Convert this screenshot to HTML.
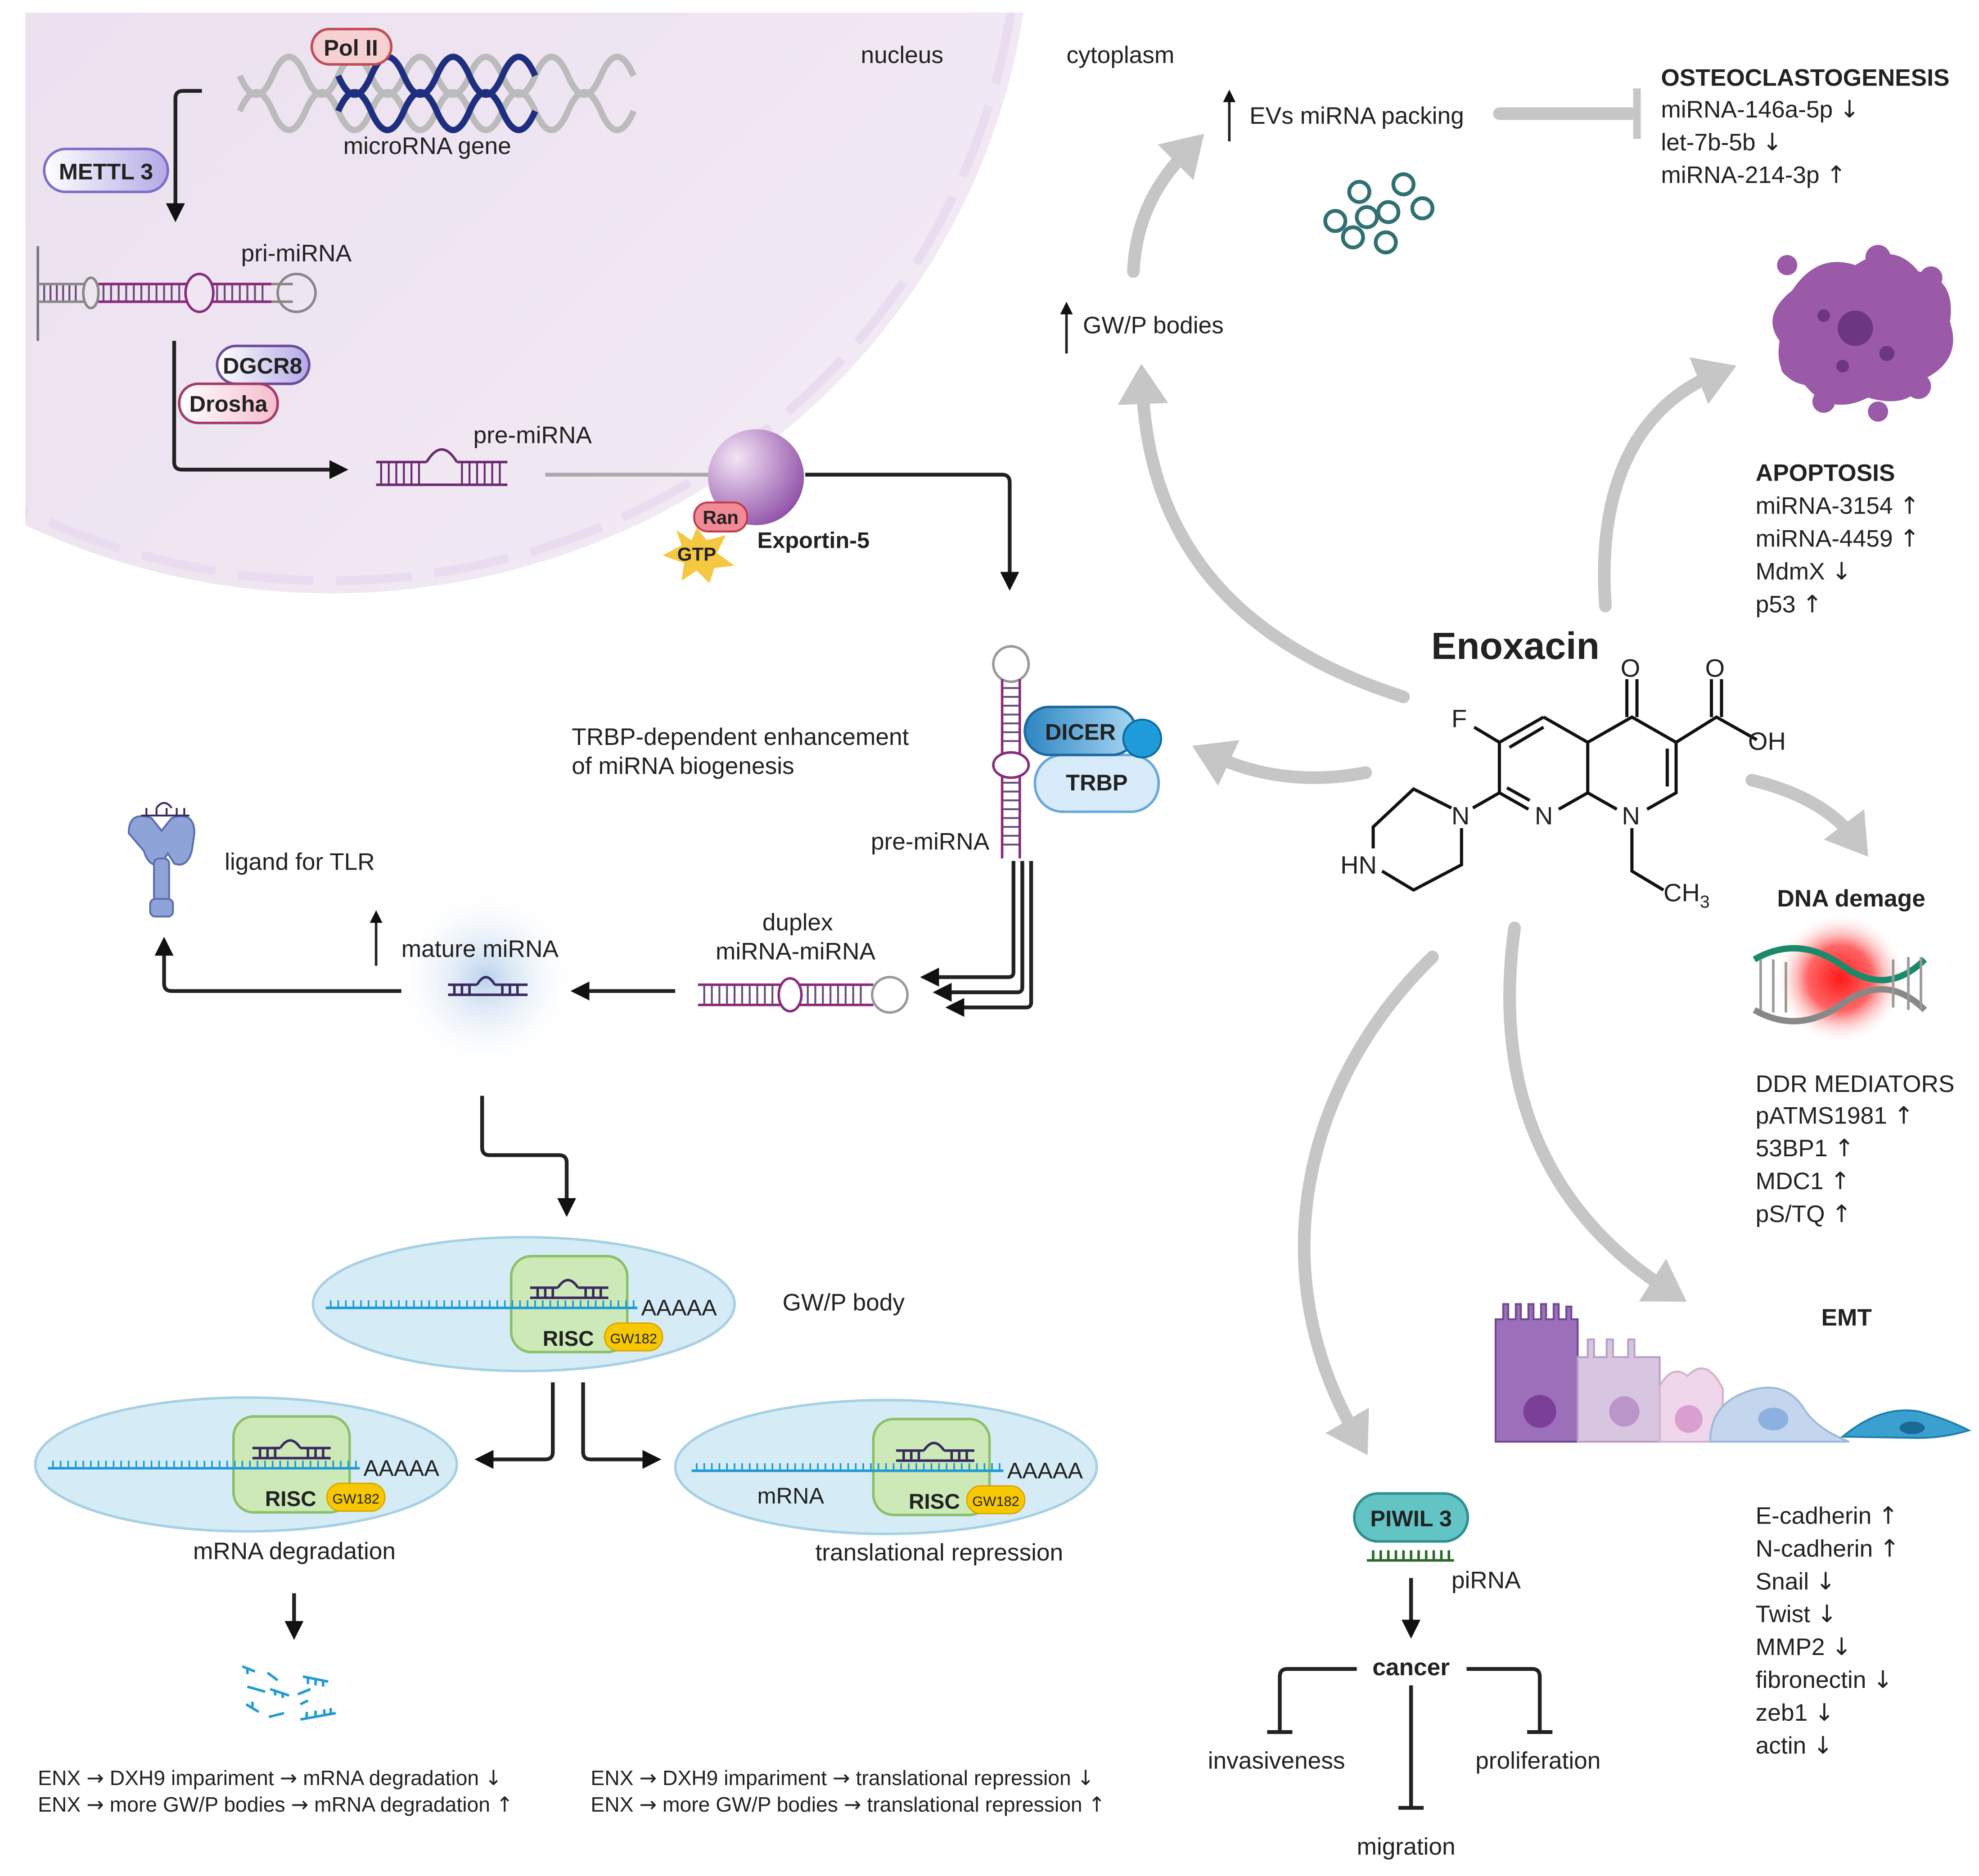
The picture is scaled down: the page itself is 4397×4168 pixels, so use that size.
<!DOCTYPE html>
<html><head><meta charset="utf-8"><style>
html,body{margin:0;padding:0;background:#fff;}
svg{display:block;}
text{font-family:"Liberation Sans",sans-serif;fill:#222;}
.b{font-weight:bold;}
.ar{font-family:"DejaVu Sans",sans-serif;}
</style></head><body>
<svg width="4397" height="4168" viewBox="0 0 1568 1486" preserveAspectRatio="none" xmlns="http://www.w3.org/2000/svg">
<defs>
<linearGradient id="nuc" x1="0" y1="0" x2="1" y2="1"><stop offset="0" stop-color="#e6d8ea"/><stop offset="1" stop-color="#f3ecf6"/></linearGradient>
<radialGradient id="exp" cx="0.3" cy="0.3" r="0.8"><stop offset="0" stop-color="#f3e4f6"/><stop offset="1" stop-color="#8e4ea6"/></radialGradient>
<linearGradient id="dic" x1="0" x2="1"><stop offset="0" stop-color="#2d86c2"/><stop offset="1" stop-color="#a8d6f2"/></linearGradient>
<radialGradient id="glow" cx="0.5" cy="0.5" r="0.5"><stop offset="0" stop-color="#b9d2ec"/><stop offset="1" stop-color="#f2f6fb" stop-opacity="0"/></radialGradient>
<radialGradient id="red" cx="0.5" cy="0.5" r="0.5"><stop offset="0" stop-color="#ff1a1a"/><stop offset="0.5" stop-color="#f66"/><stop offset="1" stop-color="#fff" stop-opacity="0"/></radialGradient>
<linearGradient id="pv" x1="0" x2="1"><stop offset="0" stop-color="#fff"/><stop offset="1" stop-color="#b4a9e6"/></linearGradient>
<linearGradient id="pp" x1="0" x2="1"><stop offset="0" stop-color="#fff"/><stop offset="1" stop-color="#f5bccc"/></linearGradient>
<marker id="ah" markerWidth="6" markerHeight="6" refX="3" refY="3" orient="auto" markerUnits="strokeWidth"><path d="M0,0.5 L5,3 L0,5.5 z" fill="#111"/></marker>
<marker id="gh" markerWidth="4" markerHeight="4" refX="1.5" refY="2" orient="auto" markerUnits="strokeWidth"><path d="M0,0 L3.2,2 L0,4 z" fill="#c6c6c6"/></marker>
</defs>
<clipPath id="cl"><rect x="20" y="10" width="1540" height="1480"/></clipPath>
<g clip-path="url(#cl)">
<ellipse cx="262" cy="-70" rx="555" ry="540" fill="url(#nuc)"/>
<ellipse cx="262" cy="-70" rx="545" ry="530" fill="none" stroke="#eadcf0" stroke-width="7" stroke-dasharray="60 18"/>
</g>
<text x="682" y="50" font-size="19">nucleus</text>
<text x="845" y="50" font-size="19">cytoplasm</text>
<g fill="none" stroke-width="5">
<path d="M190,60 q13,30 26,0 t26,0 t26,0 t26,0 t26,0 t26,0 t26,0 t26,0 t26,0 t26,0 t26,0 t26,0" stroke="#bbb"/>
<path d="M190,88 q13,-30 26,0 t26,0 t26,0 t26,0 t26,0 t26,0 t26,0 t26,0 t26,0 t26,0 t26,0 t26,0" stroke="#bbb"/>
<path d="M268,60 q13,30 26,0 t26,0 t26,0 t26,0 t26,0 t26,0" stroke="#1f2f80"/>
<path d="M268,88 q13,-30 26,0 t26,0 t26,0 t26,0 t26,0 t26,0" stroke="#1f2f80"/>
</g>
<rect x="247" y="23" width="63" height="28" rx="14" fill="#f7d1d1" stroke="#c24a57" stroke-width="2"/>
<text x="278" y="44" font-size="18" class="b" text-anchor="middle">Pol II</text>
<text x="272" y="122" font-size="19">microRNA gene</text>
<rect x="35" y="118" width="98" height="34" rx="17" fill="url(#pv)" stroke="#7b6fc7" stroke-width="2"/>
<text x="84" y="142" font-size="18" class="b" text-anchor="middle">METTL 3</text>
<path d="M160,72 H145 q-6,0 -6,6 V170" fill="none" stroke="#222" stroke-width="3" marker-end="url(#ah)"/>
<g fill="none" stroke-width="2">
<line x1="30" y1="195" x2="30" y2="270" stroke="#777"/>
<path d="M30,225 H232 M30,239 H232" stroke="#888"/>
<path d="M78,225 H215 M78,239 H215" stroke="#8a2a7c"/>
<circle cx="235" cy="232" r="15" stroke="#888" fill="none"/>
<ellipse cx="158" cy="232" rx="11" ry="15" stroke="#8a2a7c" fill="#efe6f2"/>
<ellipse cx="72" cy="232" rx="6" ry="12" stroke="#888" fill="#efe6f2"/>
<path d="M35,226 V238 M40,226 V238 M45,226 V238 M50,226 V238 M55,226 V238 M60,226 V238 M82,226 V238 M88,226 V238 M94,226 V238 M100,226 V238 M106,226 V238 M112,226 V238 M118,226 V238 M124,226 V238 M130,226 V238 M136,226 V238 M142,226 V238 M172,226 V238 M178,226 V238 M184,226 V238 M190,226 V238 M196,226 V238 M202,226 V238 M208,226 V238" stroke="#6a4b7a" stroke-width="1.5"/>
</g>
<text x="191" y="207" font-size="19">pri-miRNA</text>
<rect x="172" y="274" width="73" height="30" rx="15" fill="url(#pv)" stroke="#6b4c9a" stroke-width="2"/>
<text x="208" y="296" font-size="18" class="b" text-anchor="middle">DGCR8</text>
<rect x="142" y="304" width="78" height="31" rx="15" fill="url(#pp)" stroke="#a33a6a" stroke-width="2"/>
<text x="181" y="326" font-size="18" class="b" text-anchor="middle">Drosha</text>
<path d="M138,270 V366 q0,6 6,6 H270" fill="none" stroke="#222" stroke-width="3" marker-end="url(#ah)"/>
<g fill="none" stroke="#6a2a70" stroke-width="2">
<path d="M298,366 H338 M362,366 H402 M298,384 H402"/>
<path d="M338,366 q12,-20 24,0"/>
<path d="M302,366 V384 M308,366 V384 M314,366 V384 M320,366 V384 M326,366 V384 M332,366 V384 M366,366 V384 M372,366 V384 M378,366 V384 M384,366 V384 M390,366 V384 M396,366 V384" stroke-width="1.5"/>
</g>
<text x="375" y="351" font-size="19">pre-miRNA</text>
<line x1="432" y1="376" x2="565" y2="376" stroke="#aaa" stroke-width="3"/>
<circle cx="599" cy="378" r="38" fill="url(#exp)"/>
<polygon points="552,418 560,428 575,424 568,438 582,448 566,450 562,462 552,452 540,460 542,446 525,440 540,432 536,420 548,428" fill="#f5c842"/>
<text x="552" y="444" font-size="15" class="b" text-anchor="middle">GTP</text>
<rect x="550" y="398" width="42" height="23" rx="11" fill="#f08a94" stroke="#c03a4a" stroke-width="1.5"/>
<text x="571" y="415" font-size="15" class="b" text-anchor="middle">Ran</text>
<text x="600" y="434" font-size="18" class="b" fill="#444">Exportin-5</text>
<path d="M638,376 H794 q6,0 6,6 V462" fill="none" stroke="#222" stroke-width="3" marker-end="url(#ah)"/>
<g fill="none" stroke-width="2">
<circle cx="801" cy="526" r="14" stroke="#999" fill="#fff"/>
<path d="M794,538 V680 M808,538 V680" stroke="#8a2a7c"/>
<ellipse cx="801" cy="606" rx="14" ry="10" stroke="#8a2a7c" fill="#fff"/>
<path d="M795,545 H807 M795,552 H807 M795,559 H807 M795,566 H807 M795,573 H807 M795,580 H807 M795,587 H807 M795,620 H807 M795,627 H807 M795,634 H807 M795,641 H807 M795,648 H807 M795,655 H807 M795,662 H807 M795,669 H807" stroke="#6a4b7a" stroke-width="1.5"/>
</g>
<rect x="820" y="598" width="98" height="45" rx="22" fill="#d7ebfb" stroke="#6aa8d8" stroke-width="2"/>
<text x="869" y="626" font-size="18" class="b" text-anchor="middle">TRBP</text>
<rect x="812" y="560" width="88" height="38" rx="19" fill="url(#dic)" stroke="#1d6aa0" stroke-width="2"/>
<text x="856" y="586" font-size="18" class="b" text-anchor="middle">DICER</text>
<circle cx="905" cy="585" r="15" fill="#1e9bd8" stroke="#0d6aa0" stroke-width="1.5"/>
<text x="453" y="590" font-size="19">TRBP-dependent enhancement</text>
<text x="453" y="613" font-size="19">of miRNA biogenesis</text>
<text x="690" y="673" font-size="19">pre-miRNA</text>
<g fill="none" stroke="#222" stroke-width="3">
<path d="M803,682 V770 q0,4 -4,4 H735" marker-end="url(#ah)"/>
<path d="M810,682 V782 q0,4 -4,4 H745" marker-end="url(#ah)"/>
<path d="M817,682 V794 q0,4 -4,4 H755" marker-end="url(#ah)"/>
</g>
<text x="604" y="737" font-size="19">duplex</text>
<text x="567" y="760" font-size="19">miRNA-miRNA</text>
<g fill="none" stroke-width="2">
<path d="M553,780 H692 M553,796 H692" stroke="#8a2a7c"/>
<circle cx="705" cy="788" r="14" stroke="#999" fill="#fff"/>
<ellipse cx="626" cy="788" rx="9" ry="13" stroke="#8a2a7c" fill="#fff"/>
<path d="M558,781 V795 M564,781 V795 M570,781 V795 M576,781 V795 M582,781 V795 M588,781 V795 M594,781 V795 M600,781 V795 M606,781 V795 M612,781 V795 M640,781 V795 M646,781 V795 M652,781 V795 M658,781 V795 M664,781 V795 M670,781 V795 M676,781 V795 M682,781 V795" stroke="#6a4b7a" stroke-width="1.5"/>
</g>
<line x1="535" y1="785" x2="458" y2="785" stroke="#222" stroke-width="3" marker-end="url(#ah)"/>
<circle cx="385" cy="775" r="68" fill="url(#glow)"/>
<g fill="none" stroke="#3a2a60" stroke-width="2"><path d="M355,788 H418 M355,780 H378 M392,780 H418 M378,780 q7,-12 14,0 M360,780 V788 M366,780 V788 M372,780 V788 M398,780 V788 M404,780 V788 M410,780 V788"/></g>
<text x="318" y="758" font-size="19">mature miRNA</text>
<line x1="298" y1="765" x2="298" y2="725" stroke="#222" stroke-width="2" marker-end="url(#ah)"/>
<path d="M318,785 H136 q-6,0 -6,-6 V748" fill="none" stroke="#222" stroke-width="3" marker-end="url(#ah)"/>
<g fill="#8ea3d8" stroke="#5a6fb0" stroke-width="1.5">
<path d="M102,660 q0,-18 18,-12 l8,10 l8,-10 q18,-6 18,12 l-2,14 q-4,14 -14,10 l-5,-8 l-5,8 q-10,4 -14,-10 z"/>
<rect x="122" y="680" width="12" height="34" rx="4"/>
<rect x="119" y="712" width="18" height="14" rx="4"/>
</g>
<path d="M112,646 H150 M116,640 V646 M124,640 V646 M132,640 V646 M140,640 V646 M146,640 V646 M124,640 q6,-8 12,0" fill="none" stroke="#3a2a60" stroke-width="1.5"/>
<text x="178" y="689" font-size="19">ligand for TLR</text>
<path d="M382,868 V909 q0,6 6,6 H443 q6,0 6,6 V958" fill="none" stroke="#222" stroke-width="3" marker-end="url(#ah)"/>
<g id="risc">
<ellipse cx="415" cy="1033" rx="167" ry="53" fill="#d5ecf6" stroke="#a6d0e4" stroke-width="2"/>
<rect x="405" y="995" width="92" height="76" rx="16" fill="#cde9b8" stroke="#8bc06a" stroke-width="2"/>
</g>
<g fill="none" stroke="#1f9ad6" stroke-width="2"><path d="M258,1036 H505"/><path d="M262,1030 V1036 M268,1030 V1036 M274,1030 V1036 M280,1030 V1036 M286,1030 V1036 M292,1030 V1036 M298,1030 V1036 M304,1030 V1036 M310,1030 V1036 M316,1030 V1036 M322,1030 V1036 M328,1030 V1036 M334,1030 V1036 M340,1030 V1036 M346,1030 V1036 M352,1030 V1036 M358,1030 V1036 M364,1030 V1036 M370,1030 V1036 M376,1030 V1036 M382,1030 V1036 M388,1030 V1036 M394,1030 V1036 M400,1030 V1036 M406,1030 V1036 M412,1030 V1036 M418,1030 V1036 M424,1030 V1036 M430,1030 V1036 M436,1030 V1036 M442,1030 V1036 M448,1030 V1036 M454,1030 V1036 M460,1030 V1036 M466,1030 V1036 M472,1030 V1036 M478,1030 V1036 M484,1030 V1036 M490,1030 V1036 M496,1030 V1036 M502,1030 V1036" stroke-width="1.3"/></g>
<g fill="none" stroke="#3a2a60" stroke-width="2"><path d="M420,1028 H482 M420,1020 H442 M458,1020 H482 M442,1020 q8,-12 16,0 M426,1020 V1028 M432,1020 V1028 M438,1020 V1028 M464,1020 V1028 M470,1020 V1028 M476,1020 V1028"/></g>
<text x="508" y="1042" font-size="18">AAAAA</text>
<text x="430" y="1066" font-size="17" class="b">RISC</text>
<rect x="479" y="1048" width="46" height="22" rx="11" fill="#f7c800" stroke="#d9a400"/>
<text x="502" y="1064" font-size="11" text-anchor="middle">GW182</text>
<text x="620" y="1038" font-size="19">GW/P body</text>
<use href="#risc" x="-220" y="127"/>
<g fill="none" stroke="#1f9ad6" stroke-width="2"><path d="M38,1163 H285"/><path d="M42,1157 V1163 M48,1157 V1163 M54,1157 V1163 M60,1157 V1163 M66,1157 V1163 M72,1157 V1163 M78,1157 V1163 M84,1157 V1163 M90,1157 V1163 M96,1157 V1163 M102,1157 V1163 M108,1157 V1163 M114,1157 V1163 M120,1157 V1163 M126,1157 V1163 M132,1157 V1163 M138,1157 V1163 M144,1157 V1163 M150,1157 V1163 M156,1157 V1163 M162,1157 V1163 M168,1157 V1163 M174,1157 V1163 M180,1157 V1163 M186,1157 V1163 M192,1157 V1163 M198,1157 V1163 M204,1157 V1163 M210,1157 V1163 M216,1157 V1163 M222,1157 V1163 M228,1157 V1163 M234,1157 V1163 M240,1157 V1163 M246,1157 V1163 M252,1157 V1163 M258,1157 V1163 M264,1157 V1163 M270,1157 V1163 M276,1157 V1163 M282,1157 V1163" stroke-width="1.3"/></g>
<g fill="none" stroke="#3a2a60" stroke-width="2"><path d="M200,1155 H262 M200,1147 H222 M238,1147 H262 M222,1147 q8,-12 16,0 M206,1147 V1155 M212,1147 V1155 M218,1147 V1155 M244,1147 V1155 M250,1147 V1155 M256,1147 V1155"/></g>
<text x="288" y="1169" font-size="18">AAAAA</text>
<text x="210" y="1193" font-size="17" class="b">RISC</text>
<rect x="259" y="1175" width="46" height="22" rx="11" fill="#f7c800" stroke="#d9a400"/>
<text x="282" y="1191" font-size="11" text-anchor="middle">GW182</text>
<use href="#risc" x="287" y="129"/>
<g fill="none" stroke="#1f9ad6" stroke-width="2"><path d="M548,1165 H795"/><path d="M552,1159 V1165 M558,1159 V1165 M564,1159 V1165 M570,1159 V1165 M576,1159 V1165 M582,1159 V1165 M588,1159 V1165 M594,1159 V1165 M600,1159 V1165 M606,1159 V1165 M612,1159 V1165 M618,1159 V1165 M624,1159 V1165 M630,1159 V1165 M636,1159 V1165 M642,1159 V1165 M648,1159 V1165 M654,1159 V1165 M660,1159 V1165 M666,1159 V1165 M672,1159 V1165 M678,1159 V1165 M684,1159 V1165 M690,1159 V1165 M696,1159 V1165 M702,1159 V1165 M708,1159 V1165 M714,1159 V1165 M720,1159 V1165 M726,1159 V1165 M732,1159 V1165 M738,1159 V1165 M744,1159 V1165 M750,1159 V1165 M756,1159 V1165 M762,1159 V1165 M768,1159 V1165 M774,1159 V1165 M780,1159 V1165 M786,1159 V1165 M792,1159 V1165" stroke-width="1.3"/></g>
<g fill="none" stroke="#3a2a60" stroke-width="2"><path d="M710,1157 H772 M710,1149 H732 M748,1149 H772 M732,1149 q8,-12 16,0 M716,1149 V1157 M722,1149 V1157 M728,1149 V1157 M754,1149 V1157 M760,1149 V1157 M766,1149 V1157"/></g>
<text x="798" y="1171" font-size="18">AAAAA</text>
<text x="720" y="1195" font-size="17" class="b">RISC</text>
<rect x="766" y="1177" width="46" height="22" rx="11" fill="#f7c800" stroke="#d9a400"/>
<text x="789" y="1193" font-size="11" text-anchor="middle">GW182</text>
<text x="600" y="1191" font-size="18">mRNA</text>
<path d="M438,1095 V1150 q0,6 -6,6 H382" fill="none" stroke="#222" stroke-width="3" marker-end="url(#ah)"/>
<path d="M462,1095 V1150 q0,6 6,6 H518" fill="none" stroke="#222" stroke-width="3" marker-end="url(#ah)"/>
<text x="153" y="1235" font-size="19">mRNA degradation</text>
<text x="646" y="1236" font-size="19">translational repression</text>
<line x1="233" y1="1262" x2="233" y2="1293" stroke="#222" stroke-width="3" marker-end="url(#ah)"/>
<g fill="none" stroke="#1f9ad6" stroke-width="2">
<path d="M192,1320 l10,4 M196,1322 v4 M214,1338 l15,5 M218,1339 v4 M224,1341 v4 M240,1328 l20,4 M244,1329 v5 M250,1330 v5 M256,1331 v5 M212,1325 l8,6 M236,1342 l10,-4 M238,1350 l6,-3 M195,1350 l10,6 M200,1352 v-4 M213,1360 l12,-3 M238,1362 l28,-5 M243,1361 v-5 M250,1360 v-5 M257,1359 v-5 M262,1358 v-5 M196,1336 l14,4"/>
</g>
<g font-size="16.5">
<text x="30" y="1414">ENX <tspan class="ar">→</tspan> DXH9 impariment <tspan class="ar">→</tspan> mRNA degradation <tspan class="ar">↓</tspan></text>
<text x="30" y="1435">ENX <tspan class="ar">→</tspan> more GW/P bodies <tspan class="ar">→</tspan> mRNA degradation <tspan class="ar">↑</tspan></text>
<text x="468" y="1414">ENX <tspan class="ar">→</tspan> DXH9 impariment <tspan class="ar">→</tspan> translational repression <tspan class="ar">↓</tspan></text>
<text x="468" y="1435">ENX <tspan class="ar">→</tspan> more GW/P bodies <tspan class="ar">→</tspan> translational repression <tspan class="ar">↑</tspan></text>
</g>
<g fill="none" stroke="#c6c6c6" stroke-width="10" stroke-linecap="round">
<path d="M1112,552 C980,510 910,430 905,305" marker-end="url(#gh)"/>
<path d="M898,215 C900,170 920,140 942,118" marker-end="url(#gh)"/>
<path d="M1272,480 C1265,380 1300,320 1360,296" marker-end="url(#gh)"/>
<path d="M1082,612 C1030,622 990,612 960,598" marker-end="url(#gh)"/>
<path d="M1388,618 C1430,628 1455,645 1470,665" marker-end="url(#gh)"/>
<path d="M1200,735 C1180,880 1240,970 1322,1022" marker-end="url(#gh)"/>
<path d="M1135,758 C1030,860 1000,1010 1075,1138" marker-end="url(#gh)"/>
<path d="M1188,90 H1292"/>
</g>
<line x1="1297" y1="70" x2="1297" y2="110" stroke="#c6c6c6" stroke-width="6"/>
<line x1="974" y1="112" x2="974" y2="75" stroke="#222" stroke-width="2" marker-end="url(#ah)"/>
<text x="990" y="98" font-size="19">EVs miRNA packing</text>
<line x1="845" y1="280" x2="845" y2="243" stroke="#222" stroke-width="2" marker-end="url(#ah)"/>
<text x="858" y="264" font-size="19">GW/P bodies</text>
<g fill="none" stroke="#2f7070" stroke-width="3">
<circle cx="1077" cy="152" r="8"/><circle cx="1112" cy="146" r="8"/><circle cx="1058" cy="175" r="8"/><circle cx="1083" cy="172" r="8"/><circle cx="1100" cy="168" r="8"/><circle cx="1127" cy="165" r="8"/><circle cx="1072" cy="188" r="8"/><circle cx="1098" cy="192" r="8"/>
</g>
<g font-size="19">
<text x="1316" y="68" class="b">OSTEOCLASTOGENESIS</text>
<text x="1316" y="93">miRNA-146a-5p <tspan class="ar">↓</tspan></text>
<text x="1316" y="119">let-7b-5b <tspan class="ar">↓</tspan></text>
<text x="1316" y="145">miRNA-214-3p <tspan class="ar">↑</tspan></text>
</g>
<g fill="#9b5aa8">
<path d="M1420,230 q20,-30 50,-20 q30,-20 50,5 q30,5 25,40 q10,30 -20,45 q-10,25 -45,15 q-30,15 -50,-10 q-25,-5 -20,-35 q-15,-20 10,-40z"/>
<circle cx="1416" cy="210" r="8"/><circle cx="1488" cy="204" r="10"/><circle cx="1530" cy="220" r="9"/><circle cx="1420" cy="290" r="9"/><circle cx="1445" cy="318" r="9"/><circle cx="1488" cy="326" r="8"/><circle cx="1520" cy="306" r="10"/><circle cx="1538" cy="268" r="8"/>
</g>
<g fill="#6d3680"><circle cx="1470" cy="260" r="14"/><circle cx="1445" cy="250" r="5"/><circle cx="1495" cy="280" r="6"/><circle cx="1460" cy="290" r="5"/></g>
<g font-size="19">
<text x="1391" y="381" class="b">APOPTOSIS</text>
<text x="1391" y="407">miRNA-3154 <tspan class="ar">↑</tspan></text>
<text x="1391" y="433">miRNA-4459 <tspan class="ar">↑</tspan></text>
<text x="1391" y="459">MdmX <tspan class="ar">↓</tspan></text>
<text x="1391" y="485">p53 <tspan class="ar">↑</tspan></text>
</g>
<text x="1134" y="522" font-size="30" class="b">Enoxacin</text>
<g fill="none" stroke="#111" stroke-width="2.5">
<path d="M1223,568 L1258,588 L1293,568 L1328,588 L1328,628 L1305,641 M1281,641 L1258,628 L1235,641 M1211,641 L1188,628 L1188,588 L1223,568"/>
<path d="M1258,588 L1258,628"/>
<path d="M1196,592 L1223,576 M1321,593 L1321,623 M1194,624 L1212,634"/>
<path d="M1188,588 L1168,576"/>
<path d="M1289,568 V538 M1297,568 V538"/>
<path d="M1328,588 L1360,568 L1392,586 M1356,568 V538 M1364,568 V538"/>
<path d="M1293,656 V690 L1318,705"/>
<path d="M1188,628 L1167,640 M1158,656 V685 L1120,705 L1095,690 M1088,672 V655 L1120,625 L1150,640"/>
</g>
<g font-size="20">
<text x="1150" y="576">F</text><text x="1216" y="653">N</text><text x="1285" y="653">N</text><text x="1150" y="653">N</text>
<text x="1062" y="692">HN</text><text x="1284" y="536">O</text><text x="1351" y="536">O</text><text x="1385" y="594">OH</text><text x="1318" y="714">CH<tspan font-size="14" dy="5">3</tspan></text>
</g>
<text x="1408" y="718" font-size="19" class="b">DNA demage</text>
<circle cx="1458" cy="775" r="52" fill="url(#red)"/>
<g fill="none" stroke-width="5">
<path d="M1390,760 q35,-20 70,5 t65,-5" stroke="#1a8a6a"/>
<path d="M1390,800 q35,20 70,-5 t65,5" stroke="#888"/>
<path d="M1395,760 V800 M1405,760 V802 M1415,762 V802 M1500,760 V798 M1512,758 V800 M1522,758 V800" stroke="#999" stroke-width="2"/>
</g>
<g font-size="19">
<text x="1391" y="865">DDR MEDIATORS</text>
<text x="1391" y="890">pATMS1981 <tspan class="ar">↑</tspan></text>
<text x="1391" y="916">53BP1 <tspan class="ar">↑</tspan></text>
<text x="1391" y="942">MDC1 <tspan class="ar">↑</tspan></text>
<text x="1391" y="968">pS/TQ <tspan class="ar">↑</tspan></text>
</g>
<text x="1443" y="1050" font-size="19" class="b">EMT</text>
<path d="M1185,1045 V1142 H1250 V1045 h-5 v-10 h-4 v10 h-6 v-12 h-4 v12 h-6 v-12 h-4 v12 h-6 v-12 h-4 v12 h-6 v-12 h-4 v12 h-6 v-12 h-4 v12 z" fill="#9b6fb9" stroke="#6f4a90" stroke-width="1.5"/>
<circle cx="1220" cy="1118" r="13" fill="#7b3f99"/>
<path d="M1250,1142 V1075 h8 v-14 h5 v14 h10 v-14 h5 v14 h12 v-14 h5 v14 h20 V1142z" fill="#d8c6e0" stroke="#b8a0c8" stroke-width="1.5"/>
<circle cx="1287" cy="1118" r="12" fill="#b995c9"/>
<path d="M1315,1142 V1098 q10,-18 22,-8 q15,-16 28,10 V1142z" fill="#efd6ea" stroke="#d4b0cc" stroke-width="1.5"/>
<circle cx="1338" cy="1124" r="11" fill="#d99fd0"/>
<path d="M1355,1142 q0,-30 30,-40 q30,-10 45,15 q10,15 35,25 z" fill="#c3d6ee" stroke="#9cb8dc" stroke-width="1.5"/>
<ellipse cx="1405" cy="1124" rx="12" ry="9" fill="#8db1df"/>
<path d="M1460,1138 q30,-25 60,-20 q20,5 40,15 q-20,6 -40,6 z" fill="#3aa0d0" stroke="#1e7fb0" stroke-width="1.5"/>
<ellipse cx="1515" cy="1131" rx="10" ry="5" fill="#1a6a98"/>
<g font-size="19">
<text x="1391" y="1207">E-cadherin <tspan class="ar">↑</tspan></text><text x="1391" y="1233">N-cadherin <tspan class="ar">↑</tspan></text><text x="1391" y="1259">Snail <tspan class="ar">↓</tspan></text><text x="1391" y="1285">Twist <tspan class="ar">↓</tspan></text><text x="1391" y="1311">MMP2 <tspan class="ar">↓</tspan></text><text x="1391" y="1337">fibronectin <tspan class="ar">↓</tspan></text><text x="1391" y="1363">zeb1 <tspan class="ar">↓</tspan></text><text x="1391" y="1389">actin <tspan class="ar">↓</tspan></text>
</g>
<rect x="1073" y="1183" width="90" height="38" rx="19" fill="#62c4c4" stroke="#2f8f90" stroke-width="2"/>
<text x="1118" y="1209" font-size="18" class="b" text-anchor="middle">PIWIL 3</text>
<path d="M1083,1236 H1152 M1088,1228 V1236 M1094,1228 V1236 M1100,1228 V1236 M1106,1228 V1236 M1112,1228 V1236 M1118,1228 V1236 M1124,1228 V1236 M1130,1228 V1236 M1136,1228 V1236 M1142,1228 V1236 M1148,1228 V1236" fill="none" stroke="#2a6a2a" stroke-width="2"/>
<text x="1150" y="1258" font-size="19">piRNA</text>
<line x1="1118" y1="1250" x2="1118" y2="1292" stroke="#222" stroke-width="3" marker-end="url(#ah)"/>
<text x="1118" y="1327" font-size="19" class="b" text-anchor="middle">cancer</text>
<g fill="none" stroke="#222" stroke-width="3">
<path d="M1075,1322 H1020 q-6,0 -6,6 V1372 M1004,1372 H1024"/>
<path d="M1162,1322 H1214 q6,0 6,6 V1372 M1210,1372 H1230"/>
<path d="M1118,1335 V1432 M1108,1432 H1128"/>
</g>
<text x="957" y="1401" font-size="19">invasiveness</text>
<text x="1169" y="1401" font-size="19">proliferation</text>
<text x="1075" y="1469" font-size="19">migration</text>
</svg>
</body></html>
